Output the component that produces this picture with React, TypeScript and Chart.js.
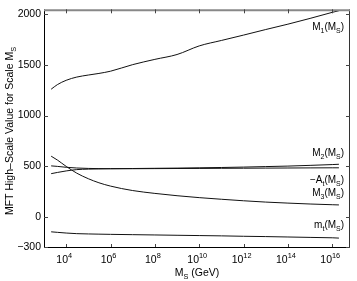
import React, { useEffect, useRef } from 'react';
import { Chart, registerables } from 'chart.js';

Chart.register(...registerables);

const FONT = '"Liberation Sans", Arial, Helvetica, sans-serif';

// M_S values (GeV)
const msGeV = [2.1e3, 4e3, 1e4, 3e4, 1e5, 3e5, 1e6, 1e7, 1e8, 1e9, 1e10, 1e11, 1e12, 1e13, 1e14, 1e15, 1e16, 2e16];
// series
const m1 = [1260, 1305, 1348, 1380, 1400, 1416, 1438, 1503, 1555, 1603, 1688, 1742, 1795, 1850, 1903, 1960, 2020, 2036];
const m2 = [425, 437, 452, 465, 470, 472, 474, 476, 478, 480, 483, 486, 490, 495, 500, 507, 515, 518];
const minusAt = [502, 497, 488, 481, 477, 475, 474, 474, 475, 476, 477, 478, 479, 480, 481, 482, 483, 483];
const m3 = [598, 560, 497, 430, 375, 335, 302, 258, 230, 207, 188, 172, 157, 144, 134, 125, 118, 116];
const mt = [-150, -155, -162, -168, -171, -173, -175, -178, -181, -184, -187, -190, -194, -197, -201, -205, -209, -212];

// axes
const xMin = 1e3;
const xMax = Math.pow(10, 16.8);
const yMin = -300;
const yMax = 2050;
const xTickExponents = [4, 6, 8, 10, 12, 14, 16];
const xTickValues = xTickExponents.map((e) => Math.pow(10, e));
const yTickValues = [-300, 0, 500, 1000, 1500, 2000];

// curve labels (right edge anchor x, centre y in data units)
type Part = { t: string; s?: 'sub' | 'sup' };
const labelAnchorX = 3.4e16;
const labelYs = [1870, 625, 360, 232, -88];
const labelTexts: Part[][] = [
  [{ t: 'M' }, { t: '1', s: 'sub' }, { t: '(M' }, { t: 'S', s: 'sub' }, { t: ')' }],
  [{ t: 'M' }, { t: '2', s: 'sub' }, { t: '(M' }, { t: 'S', s: 'sub' }, { t: ')' }],
  [{ t: '\u2212A' }, { t: 't', s: 'sub' }, { t: '(M' }, { t: 'S', s: 'sub' }, { t: ')' }],
  [{ t: 'M' }, { t: '3', s: 'sub' }, { t: '(M' }, { t: 'S', s: 'sub' }, { t: ')' }],
  [{ t: 'm' }, { t: 't', s: 'sub' }, { t: '(M' }, { t: 'S', s: 'sub' }, { t: ')' }],
];
const xTitle: Part[] = [{ t: 'M' }, { t: 'S', s: 'sub' }, { t: ' (GeV)' }];
const yTitle: Part[] = [{ t: 'MFT High\u2013Scale Value for Scale M' }, { t: 'S', s: 'sub' }];

function drawRich(
  ctx: CanvasRenderingContext2D,
  parts: Part[],
  x: number,
  baseline: number,
  align: 'left' | 'center' | 'right',
  size = 10
) {
  const small = size * 0.7;
  const widths = parts.map((p) => {
    ctx.font = `${p.s ? small : size}px ${FONT}`;
    return ctx.measureText(p.t).width;
  });
  const total = widths.reduce((a, b) => a + b, 0);
  let cx = align === 'left' ? x : align === 'center' ? x - total / 2 : x - total;
  ctx.textAlign = 'left';
  ctx.textBaseline = 'alphabetic';
  parts.forEach((p, i) => {
    ctx.font = `${p.s ? small : size}px ${FONT}`;
    const dy = p.s === 'sub' ? size * 0.3 : p.s === 'sup' ? -size * 0.45 : 0;
    ctx.fillText(p.t, cx, baseline + dy);
    cx += widths[i];
  });
}

const decor = {
  id: 'decor',
  afterDraw(chart: any) {
    const { ctx, chartArea: a, scales } = chart;
    const xs = scales.x;
    const ys = scales.y;
    ctx.save();
    // frame
    ctx.lineWidth = 1;
    ctx.strokeStyle = '#000';
    ctx.beginPath();
    ctx.moveTo(a.left + 0.5, a.top);
    ctx.lineTo(a.left + 0.5, a.bottom + 0.5);
    ctx.lineTo(a.right, a.bottom + 0.5);
    ctx.stroke();
    ctx.strokeStyle = '#333';
    ctx.beginPath();
    ctx.moveTo(a.right - 0.5, a.top);
    ctx.lineTo(a.right - 0.5, a.bottom + 0.5);
    ctx.stroke();
    ctx.strokeStyle = '#888';
    ctx.lineWidth = 2;
    ctx.beginPath();
    ctx.moveTo(a.left, a.top + 1);
    ctx.lineTo(a.right, a.top + 1);
    ctx.stroke();
    // ticks
    ctx.lineWidth = 1;
    ctx.strokeStyle = '#444';
    ctx.beginPath();
    xTickValues.forEach((v) => {
      const px = Math.round(xs.getPixelForValue(v)) + 0.5;
      ctx.moveTo(px, a.bottom);
      ctx.lineTo(px, a.bottom - 3);
      ctx.moveTo(px, a.top);
      ctx.lineTo(px, a.top + 4);
    });
    yTickValues.forEach((v) => {
      const py = Math.round(ys.getPixelForValue(v)) + 0.5;
      ctx.moveTo(a.left, py);
      ctx.lineTo(a.left + 4, py);
      ctx.moveTo(a.right, py);
      ctx.lineTo(a.right - 4, py);
    });
    ctx.stroke();
    ctx.fillStyle = '#000';
    // x tick labels (10 with superscript exponent)
    xTickValues.forEach((v, i) => {
      const px = xs.getPixelForValue(v);
      drawRich(ctx, [{ t: '10' }, { t: String(xTickExponents[i]), s: 'sup' }], px - 2, a.bottom + 16, 'center', 10.5);
    });
    // curve labels
    labelTexts.forEach((parts, i) => {
      const px = xs.getPixelForValue(labelAnchorX);
      const py = ys.getPixelForValue(labelYs[i]);
      drawRich(ctx, parts, px, py + 2.5, 'right', 10);
    });
    // axis titles
    drawRich(ctx, xTitle, (a.left + a.right) / 2, 276, 'center', 10.5);
    ctx.save();
    ctx.translate(13, 131);
    ctx.rotate(-Math.PI / 2);
    drawRich(ctx, yTitle, 0, 0, 'center', 10.5);
    ctx.restore();
    ctx.restore();
  },
};

function series(values: number[]) {
  return values.map((v, i) => ({ x: msGeV[i], y: v }));
}

export default function App() {
  const ref = useRef<HTMLCanvasElement | null>(null);
  useEffect(() => {
    document.body.style.margin = '0';
    if (!ref.current) return;
    const ds = (label: string, values: number[]) => ({
      label,
      data: series(values),
      borderColor: '#111',
      borderWidth: 1,
      pointRadius: 0,
      fill: false,
      cubicInterpolationMode: 'monotone' as const,
    });
    const chart = new Chart(ref.current, {
      type: 'line',
      data: {
        datasets: [
          ds('M1', m1),
          ds('M2', m2),
          ds('-At', minusAt),
          ds('M3', m3),
          ds('mt', mt),
        ],
      },
      options: {
        responsive: false,
        animation: false,
        devicePixelRatio: 1,
        layout: { padding: { top: 3, right: 7, left: 0, bottom: 0 } },
        plugins: { legend: { display: false }, tooltip: { enabled: false }, title: { display: false } },
        scales: {
          x: {
            type: 'logarithmic',
            min: xMin,
            max: xMax,
            grid: { display: false, drawTicks: false },
            border: { display: false },
            afterBuildTicks: (scale: any) => {
              scale.ticks = xTickValues.map((v) => ({ value: v }));
            },
            afterFit: (scale: any) => {
              scale.height = 34;
            },
            ticks: { display: false },
          },
          y: {
            type: 'linear',
            min: yMin,
            max: yMax,
            grid: { display: false, drawTicks: false },
            border: { display: false },
            afterBuildTicks: (scale: any) => {
              scale.ticks = yTickValues.map((v) => ({ value: v }));
            },
            afterFit: (scale: any) => {
              scale.width = 44;
            },
            ticks: {
              padding: 3,
              color: '#000',
              font: { size: 10.5, family: FONT },
              callback: (v: any) => (Number(v) < 0 ? '\u2212' + Math.abs(Number(v)) : String(v)),
            },
          },
        },
      },
      plugins: [decor],
    });
    return () => chart.destroy();
  }, []);
  return (
    <div style={{ width: 357, height: 281 }}>
      <canvas ref={ref} width={357} height={281} />
    </div>
  );
}
